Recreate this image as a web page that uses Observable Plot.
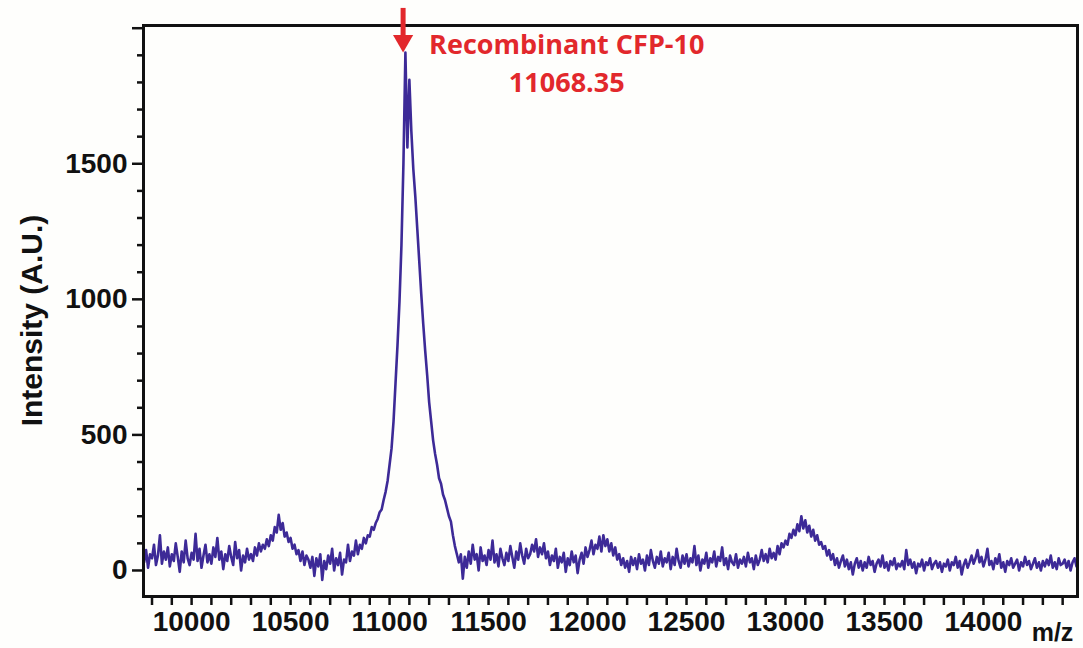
<!DOCTYPE html>
<html>
<head>
<meta charset="utf-8">
<script src="https://cdn.jsdelivr.net/npm/d3@7"></script>
<script src="https://cdn.jsdelivr.net/npm/@observablehq/plot@0.6"></script>
<style>
  html, body { margin: 0; padding: 0; background: #fefefc; }
  #chart svg { display: block; }
</style>
</head>
<body>
<div id="chart"></div>
<script>
// ---- Data ----
const mzStart = 9760;   // first m/z sample
const mzStep = 10;      // spacing between samples
const intensity = [
  30, 75, 10, 60,
  45, 95, 20, 55, 130, 25, 70, 40, 85, 15,
  60, 35, 100, 50, -5, 70, 30, 110, 45, 20,
  65, 40, 135, 35, 80, 10, 55, 95, 30, 60,
  25, 85, 50, 120, 40, 70, 5, 60, 35, 90,
  50, 20, 105, 45, 75, 0, 55, 30, 80, 40,
  60, 35, 85, 55, 100, 70, 95, 80, 115, 90,
  130, 110, 160, 140, 205, 150, 175, 125, 140, 105,
  120, 80, 95, 60, 75, 35, 70, 20, 55, 40,
  10, 50, -20, 45, 15, 60, -35, 35, 5, 55,
  25, 80, 0, 45, 20, 65, -15, 40, 30, 95,
  35, 70, 55, 110, 60, 95, 80, 120, 100, 130,
  125, 160, 150, 175, 190, 215, 225, 260, 290, 330,
  390, 450, 550, 690, 830, 990, 1200, 1500, 1910, 1560,
  1810, 1620, 1480, 1380, 1260, 1140, 1020, 910, 810, 720,
  620, 550, 480, 430, 390, 340, 320, 280, 260, 230,
  200, 180, 130, 90, 60, 30, 60, -30, 50, 10,
  70, 25, 95, 40, 60, 0, 85, 35, 55, 20,
  75, 40, 110, 30, 60, 15, 80, 45, 20, 65,
  35, 90, 50, 10, 70, 40, 100, 55, 25, 80,
  45, 60, 95, 70, 115, 50, 85, 60, 100, 45,
  70, 20, 55, 35, 80, 10, 50, 30, 65, -5,
  45, 20, 70, 30, 55, -10, 40, 65, 25, 85,
  50, 75, 110, 60, 95, 80, 125, 70, 130, 90,
  115, 70, 100, 55, 85, 40, 60, 20, 45, 10,
  35, -5, 50, 20, 45, 5, 60, 25, 40, 0,
  55, 20, 75, 35, 10, 50, 25, 70, 15, 45,
  30, 65, 5, 50, 20, 80, 35, 10, 55, 25,
  60, 15, 45, 30, 90, 20, 55, 0, 40, 25,
  65, 10, 45, 30, 70, 15, 50, 35, 85, 20,
  45, 5, 55, 30, 20, 60, 10, 40, 25, 50,
  15, 65, 30, 45, 5, 55, 20, 40, 75, 35,
  60, 30, 80, 45, 65, 40, 90, 60, 100, 85,
  110, 95, 135, 120, 150, 130, 170, 145, 200, 155,
  185, 140, 165, 125, 150, 110, 130, 95, 105, 80,
  90, 55, 75, 40, 60, 20, 45, 10, 35, 55,
  15, 40, 5, 30, -15, 25, 45, 10, 35, 0,
  30, 10, 50, 20, 35, -5, 25, 40, 15, 55,
  10, 30, 0, 35, 20, 45, 5, 25, 15, 35,
  5, 75, 20, 40, 10, 30, -10, 25, 15, 40,
  0, 30, 20, 45, 5, 25, 35, 10, 30, -5,
  25, 15, 40, 0, 30, 20, 50, 10, 35, -15,
  20, 40, 10, 30, 55, 25, 45, 75, 30, 50,
  15, 40, 80, 20, 35, 5, 45, 25, 60, 10,
  30, -5, 35, 20, 45, 10, 25, 40, 0, 30,
  15, 50, 20, 35, 5, 25, 45, 10, 30, 0,
  35, 15, 40, 20, 55, 10, 30, 5, 45, 20,
  25, 40, 10, 35, 0, 30, 45, 15
];

const xTicks = [10000, 10500, 11000, 11500, 12000, 12500, 13000, 13500, 14000];
const yTicks = [0, 500, 1000, 1500];
const yTopTick = [2000];
const xDomain = [9757, 14475];
const yDomain = [-96, 2010];

const peakMz = 11068.35;
const peakIntensity = 1910;
const annotationLines = ["Recombinant CFP-10", "11068.35"];
const annotationMz = 11895;
const xLabel = "m/z";
const yLabel = "Intensity (A.U.)";

// ---- Derived tables ----
const spectrum = intensity.map((v, i) => ({ mz: mzStart + i * mzStep, v }));
const xMinor = d3.range(9800, 14401, 100).filter(d => d % 500 !== 0);
const yMinor = d3.range(100, 2000, 100).filter(d => d % 500 !== 0);
const peak = [{ mz: peakMz, v: peakIntensity }];

const blue = "#3d2a97";
const red = "#e2282c";
const ink = "#111111";
const font = "'Liberation Sans', Arial, Helvetica, sans-serif";

const chart = Plot.plot({
  width: 1083,
  height: 648,
  marginLeft: 143,
  marginRight: 6,
  marginTop: 25,
  marginBottom: 52,
  style: { background: "#fefefc", color: ink, fontFamily: font, overflow: "visible" },
  x: { domain: xDomain },
  y: { domain: yDomain },
  marks: [
    Plot.axisX(xMinor, { tickSize: 9, strokeWidth: 2.5, text: null, label: null }),
    Plot.axisX(xTicks, {
      tickSize: 9, tickPadding: 6, strokeWidth: 2.5, label: null,
      tickFormat: d => String(d), fontSize: 28, fontWeight: "bold", letterSpacing: 0.5
    }),
    Plot.axisY(yMinor, { tickSize: 6, strokeWidth: 2.5, text: null, label: null }),
    Plot.axisY(yTopTick, { tickSize: 11, strokeWidth: 2.5, text: null, label: null }),
    Plot.axisY(yTicks, {
      tickSize: 11, tickPadding: 5, strokeWidth: 2.5, label: null,
      tickFormat: d => String(d), fontSize: 28, fontWeight: "bold", letterSpacing: 0.5
    }),
    Plot.line(spectrum, { x: "mz", y: "v", stroke: blue, strokeWidth: 2.6, strokeLinejoin: "round" }),
    Plot.frame({ stroke: ink, strokeWidth: 3 }),
    // arrow pointing to the main peak
    Plot.ruleX(peak, { x: "mz", y1: 1947, y2: 2073, stroke: red, strokeWidth: 5 }),
    Plot.dot(peak, { x: "mz", y: "v", symbol: "triangle", r: 7.5, rotate: 180, dy: -11.7, fill: red, stroke: "none" }),
    Plot.text([annotationLines[0]], {
      x: () => annotationMz, frameAnchor: "top", dy: 20, lineAnchor: "middle",
      fill: red, fontSize: 27, fontWeight: "bold", fontFamily: "'Open Sans', sans-serif", textAnchor: "middle"
    }),
    Plot.text([annotationLines[1]], {
      x: () => annotationMz, frameAnchor: "top", dy: 58, lineAnchor: "middle",
      fill: red, fontSize: 27, fontWeight: "bold", fontFamily: "'Open Sans', sans-serif", textAnchor: "middle"
    }),
    Plot.text([yLabel], {
      frameAnchor: "left", rotate: -90, dx: -111, dy: 9.5, textAnchor: "middle", lineAnchor: "middle",
      fontSize: 30, fontWeight: "bold", fill: ink
    }),
    Plot.text([xLabel], {
      frameAnchor: "bottom-right", dx: -25, dy: 36, textAnchor: "middle", lineAnchor: "middle",
      fontSize: 25, fontWeight: "bold", fill: ink
    })
  ]
});

document.getElementById("chart").appendChild(chart);
</script>
</body>
</html>
